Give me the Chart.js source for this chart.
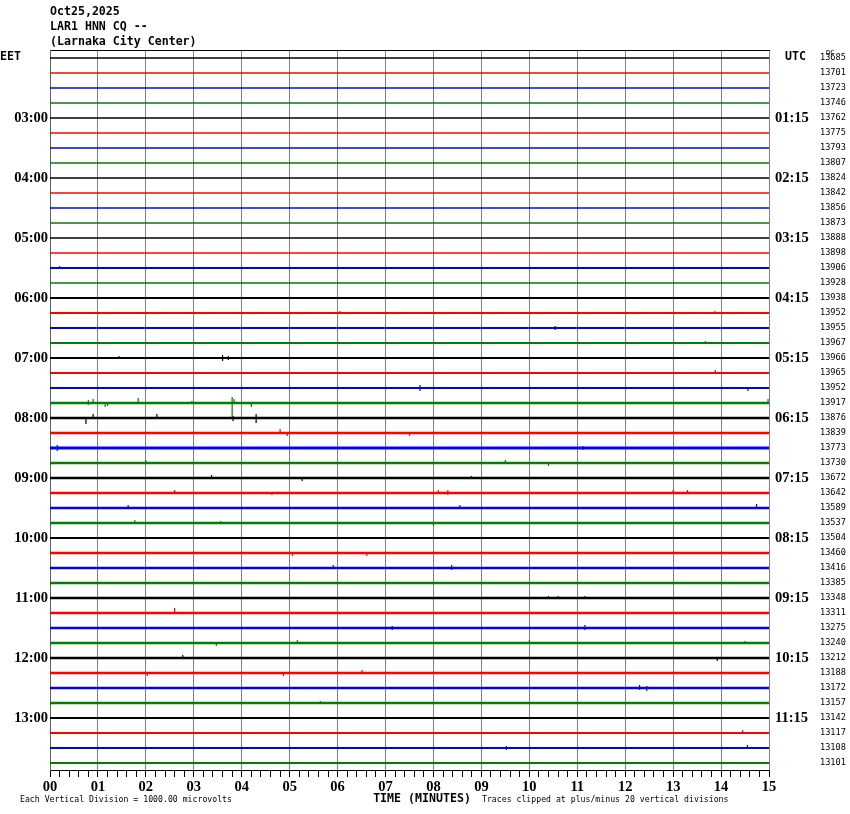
<!DOCTYPE html>
<html><head><meta charset="utf-8">
<script src="https://cdn.jsdelivr.net/npm/chart.js@4/dist/chart.umd.min.js"></script>
<style>html,body{margin:0;padding:0;background:#fff}canvas{display:block}</style>
</head><body>
<canvas id="c" width="850" height="814"></canvas>
<script>
// ---------- data ----------
const stationLines = ["Oct25,2025", "LAR1 HNN CQ --", "(Larnaka City Center)"];
const localTimeLabels = ["03:00","04:00","05:00","06:00","07:00","08:00","09:00","10:00","11:00","12:00","13:00"];
const utcTimeLabels = ["01:15","02:15","03:15","04:15","05:15","06:15","07:15","08:15","09:15","10:15","11:15"];
const rowDcOffsets = [13685,13701,13723,13746,13762,13775,13793,13807,13824,13842,13856,13873,
  13888,13898,13906,13928,13938,13952,13955,13967,13966,13965,13952,13917,
  13876,13839,13773,13730,13672,13642,13589,13537,13504,13460,13416,13385,
  13348,13311,13275,13240,13212,13188,13172,13157,13142,13117,13108,13101];
const minuteTicks = ["00","01","02","03","04","05","06","07","08","09","10","11","12","13","14","15"];
// background noise level of each trace (divisions)
const rowNoise = [1,1,1,1, 1,1,1,1, 1,1,1,1, 1,1,1.5,1,
  1.5,1.5,1.5,1.5, 1.5,1.5,1.5,2, 2,2,2.5,2, 2,2,2,2,
  1.5,2,2,2, 2,2,2,2, 2,2,2,2, 1.5,1.5,1.5,1.5];
// notable excursions: [row, minute, up, down] (divisions)
const spikes = [
  [14,0.2,2,1],
  [17,6.05,2,0],[17,13.87,2,0],
  [18,10.54,2,2],
  [19,13.67,2,0],
  [20,1.44,2,0],[20,3.6,3,3],[20,3.72,2,2],
  [21,13.88,3,0],
  [22,7.72,3,3],[22,14.56,0,3],
  [23,0.8,3,2],[23,0.9,4,0],[23,1.15,0,4],[23,1.2,0,3],[23,1.84,5,0],[23,2.96,2,0],
  [23,3.8,6,14],[23,3.84,4,0],[23,4.2,0,4],[23,14.98,4,0],
  [24,0.75,0,6],[24,0.9,4,0],[24,2.23,4,0],[24,3.82,2,3],[24,4.3,4,5],
  [25,4.8,4,0],[25,4.95,0,3],[25,7.5,0,3],
  [26,0.15,3,3],[26,11.12,2,2],
  [27,2.0,3,0],[27,9.5,3,0],[27,10.4,0,3],
  [28,3.37,3,0],[28,5.26,0,3],[28,8.79,2,0],
  [29,2.6,3,0],[29,4.63,0,2],[29,8.1,3,0],[29,8.3,3,2],[29,13.0,3,0],[29,13.3,3,0],
  [30,1.63,3,0],[30,8.55,3,0],[30,14.74,4,0],
  [31,1.77,3,0],[31,3.56,2,0],[31,8.0,0,3],
  [33,5.06,0,3],[33,6.61,0,3],
  [34,5.91,3,0],[34,8.38,3,2],
  [36,10.4,2,0],[36,10.6,2,0],[36,11.16,2,0],
  [37,2.6,5,1],
  [38,7.14,2,2],[38,11.16,3,2],
  [39,3.47,0,3],[39,5.16,3,0],[39,10.0,3,0],[39,14.5,2,0],
  [40,2.77,3,0],[40,13.92,0,3],
  [41,2.03,0,3],[41,4.87,0,3],[41,6.51,3,0],
  [42,12.3,3,2],[42,12.45,2,3],
  [43,5.64,2,0],
  [45,14.45,3,0],
  [46,9.52,2,2],[46,14.55,3,0]
];

// ---------- styling / scale config ----------
const DIV_PER_ROW = 15;
const traceColors = ["#000000", "#ff0000", "#0000ff", "#008000"];
const ROWS = rowDcOffsets.length;
const Y_MIN = -8 / 15, Y_MAX = ROWS - 1 + 7 / 15;

const datasets = [];
rowDcOffsets.forEach((_, r) => {
  // baseline trace
  datasets.push({
    data: [{x: 0, y: r}, {x: 15, y: r}],
    borderColor: traceColors[r % 4],
    borderWidth: 0.8 + rowNoise[r] * 0.9,
    pointRadius: 0, tension: 0, fill: false
  });
  // excursions of the trace, drawn as thin strokes
  const pts = [];
  spikes.filter(s => s[0] === r).sort((a, b) => a[1] - b[1]).forEach(s => {
    pts.push({x: s[1], y: r - s[2] / DIV_PER_ROW});
    pts.push({x: s[1], y: r + s[3] / DIV_PER_ROW});
    pts.push({x: s[1], y: null});
  });
  if (pts.length) datasets.push({
    data: pts,
    borderColor: traceColors[r % 4],
    borderWidth: 1.2,
    spanGaps: false,
    pointRadius: 0, tension: 0, fill: false
  });
});

const isInt = v => Math.abs(v - Math.round(v)) < 1e-6;
const timeFont = {family: "'Liberation Serif', serif", weight: 'bold', size: 14.5};
const noTickGrid = {display: false, drawTicks: false, tickLength: 0};

const textPlugin = {
  id: 'helicorderText',
  afterDraw(chart) {
    const ctx = chart.ctx;
    const y = chart.scales.y;
    ctx.save();
    ctx.fillStyle = '#000';
    ctx.textBaseline = 'middle';
    ctx.textAlign = 'left';
    ctx.font = "bold 11.6px 'DejaVu Sans Mono', monospace";
    stationLines.forEach((t, i) => ctx.fillText(t, 50, 12 + 15 * i));
    const topRow = y.getPixelForValue(0) - 1;
    ctx.fillText('EET', 0, topRow);
    ctx.fillText('UTC', 785, topRow);
    ctx.textAlign = 'center';
    ctx.fillText('TIME (MINUTES)', 422, 799);
    ctx.textAlign = 'left';
    ctx.font = "8.2px 'DejaVu Sans Mono', monospace";
    ctx.fillText('Each Vertical Division = 1000.00 microvolts', 20, 800);
    ctx.fillText('Traces clipped at plus/minus 20 vertical divisions', 482, 800);
    ctx.font = "7px 'DejaVu Sans Mono', monospace";
    ctx.fillText('DC', 826, 53);
    ctx.restore();
  }
};

new Chart(document.getElementById('c'), {
  type: 'line',
  data: {datasets},
  plugins: [textPlugin],
  options: {
    responsive: false,
    animation: false,
    layout: {padding: {top: 50, left: 0, right: 0, bottom: 0}},
    plugins: {legend: {display: false}, tooltip: {enabled: false}, title: {display: false}},
    scales: {
      x: {
        type: 'linear', min: 0, max: 15, position: 'bottom',
        afterBuildTicks: s => { const t = []; for (let i = 0; i <= 75; i++) t.push({value: i / 5}); s.ticks = t; },
        ticks: {
          autoSkip: false, maxRotation: 0, minRotation: 0, padding: 2, color: '#000', font: timeFont,
          callback: v => isInt(v) ? minuteTicks[Math.round(v)] : ''
        },
        grid: {
          color: c => (c.tick && isInt(c.tick.value)) ? '#808080' : 'rgba(0,0,0,0)',
          tickColor: '#000', tickLength: 7, lineWidth: 1
        },
        border: {color: '#000', width: 1},
        afterFit: s => { s.height = 44; }
      },
      x2: {
        type: 'linear', position: 'top',
        ticks: {display: false}, grid: noTickGrid,
        border: {display: true, color: '#000', width: 1},
        afterFit: s => { s.height = 0; }
      },
      y: {
        type: 'linear', reverse: true, min: Y_MIN, max: Y_MAX, position: 'left',
        afterBuildTicks: s => { s.ticks = localTimeLabels.map((_, i) => ({value: 4 * (i + 1)})); },
        ticks: {autoSkip: false, padding: 2, color: '#000', font: timeFont,
          callback: v => localTimeLabels[Math.round(v / 4) - 1]},
        grid: noTickGrid,
        border: {display: true, color: '#606060', width: 1},
        afterFit: s => { s.width = 50; }
      },
      y2: {
        type: 'linear', reverse: true, min: Y_MIN, max: Y_MAX, position: 'right', weight: 0,
        afterBuildTicks: s => { s.ticks = utcTimeLabels.map((_, i) => ({value: 4 * (i + 1)})); },
        ticks: {autoSkip: false, padding: 6, color: '#000', font: timeFont,
          callback: v => utcTimeLabels[Math.round(v / 4) - 1]},
        grid: noTickGrid,
        border: {display: false},
        afterFit: s => { s.width = 46; }
      },
      y3: {
        type: 'linear', reverse: true, min: Y_MIN, max: Y_MAX, position: 'right', weight: 1,
        afterBuildTicks: s => { s.ticks = rowDcOffsets.map((_, i) => ({value: i})); },
        ticks: {autoSkip: false, padding: 5, color: '#000',
          font: {family: "'DejaVu Sans Mono', monospace", size: 8.6},
          callback: v => String(rowDcOffsets[Math.round(v)])},
        grid: noTickGrid,
        border: {display: false},
        afterFit: s => { s.width = 35; }
      }
    }
  }
});
</script>
</body></html>
